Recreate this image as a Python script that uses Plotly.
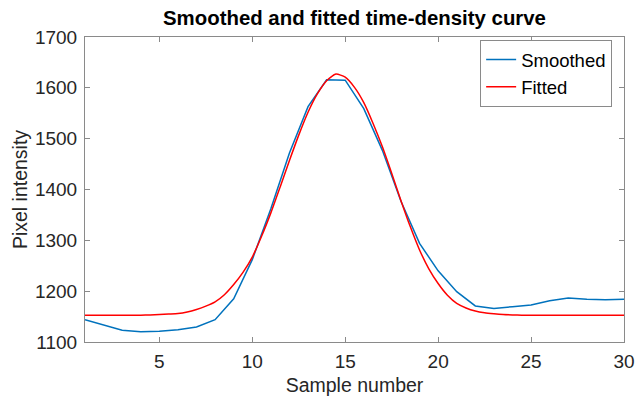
import plotly.graph_objects as go

# Smoothed curve (one value per sample)
sample_numbers = list(range(1, 31))
smoothed_values = [1144, 1133, 1123, 1120, 1121, 1124, 1129.5, 1144, 1185, 1262,
                   1362, 1472, 1563, 1616, 1615, 1559, 1477, 1377, 1294, 1240,
                   1199, 1171, 1166, 1169.5, 1173, 1181, 1186.5, 1184, 1183, 1184]

# Fitted curve (read at half-sample resolution)
fitted_x = [1, 1.5, 2, 2.5, 3, 3.5, 4, 4.5, 5, 5.5, 6, 6.5, 7, 7.5, 8, 8.5, 9, 9.5, 10, 10.5,
            11, 11.5, 12, 12.5, 13, 13.5, 14, 14.5, 15, 15.5, 16, 16.5, 17, 17.5, 18, 18.5,
            19, 19.5, 20, 20.5, 21, 21.5, 22, 22.5, 23, 23.5, 24, 24.5, 25, 25.5, 26, 26.5,
            27, 27.5, 28, 28.5, 29, 29.5, 30]
fitted_values = [1152.5, 1152.5, 1152.5, 1152.5, 1152.5, 1152.6, 1152.8, 1153.2, 1154, 1155,
                 1156, 1159, 1164, 1170.5, 1179, 1193, 1213, 1237, 1267, 1308,
                 1354, 1405, 1457, 1507, 1552, 1588, 1614, 1627, 1621, 1601,
                 1571, 1530, 1484, 1432, 1378, 1327, 1281, 1244, 1215, 1192,
                 1176, 1167, 1161, 1157.5, 1155.5, 1154, 1153.3, 1152.8, 1152.5, 1152.5,
                 1152.5, 1152.5, 1152.5, 1152.5, 1152.5, 1152.5, 1152.5, 1152.5, 1152.5]

x_ticks = [5, 10, 15, 20, 25, 30]
y_ticks = [1100, 1200, 1300, 1400, 1500, 1600, 1700]

FONT = "Liberation Sans, Arial, Helvetica, sans-serif"
AXIS_COLOR = "#8a8a8a"
TEXT_COLOR = "#262626"

fig = go.Figure()
fig.add_trace(go.Scatter(x=sample_numbers, y=smoothed_values, mode="lines", name="Smoothed",
                         line=dict(color="#0072BD", width=1.5)))
fig.add_trace(go.Scatter(x=fitted_x, y=fitted_values, mode="lines", name="Fitted",
                         line=dict(color="#FF0000", width=1.5, shape="spline", smoothing=0.6)))

fig.update_layout(
    width=636, height=396,
    margin=dict(l=85, r=12, t=37, b=54, autoexpand=False),
    paper_bgcolor="white", plot_bgcolor="white",
    font=dict(family=FONT, color=TEXT_COLOR, size=18),
    title=dict(text="<b>Smoothed and fitted time-density curve</b>",
               x=(85 + 624) / 2 / 636, xanchor="center", y=1 - 18 / 396, yanchor="middle",
               font=dict(family=FONT, size=20.4, color="black")),
    showlegend=True,
    legend=dict(x=0.978, y=0.99, xanchor="right", yanchor="top",
                bgcolor="white", bordercolor=AXIS_COLOR, borderwidth=1,
                font=dict(family=FONT, size=18.5, color="black"),
                tracegroupgap=0, itemwidth=30),
)
fig.update_xaxes(range=[1, 30], tickvals=x_ticks, showgrid=False, zeroline=False,
                 showline=True, linecolor=AXIS_COLOR, linewidth=1, mirror="ticks",
                 ticks="inside", ticklen=5, tickcolor=AXIS_COLOR, automargin=False,
                 tickfont=dict(size=19, color=TEXT_COLOR), ticklabelstandoff=2,
                 title=dict(text="Sample number", font=dict(size=19.5, color=TEXT_COLOR), standoff=8))
fig.update_yaxes(range=[1100, 1700], tickvals=y_ticks, showgrid=False, zeroline=False,
                 showline=True, linecolor=AXIS_COLOR, linewidth=1, mirror="ticks",
                 ticks="inside", ticklen=5, tickcolor=AXIS_COLOR, automargin=False,
                 tickfont=dict(size=19, color=TEXT_COLOR), ticklabelstandoff=3,
                 title=dict(text="Pixel intensity", font=dict(size=19.5, color=TEXT_COLOR), standoff=2))

fig.write_html("out.html", config={"displayModeBar": False},
               post_script="document.body.style.margin='0';")
